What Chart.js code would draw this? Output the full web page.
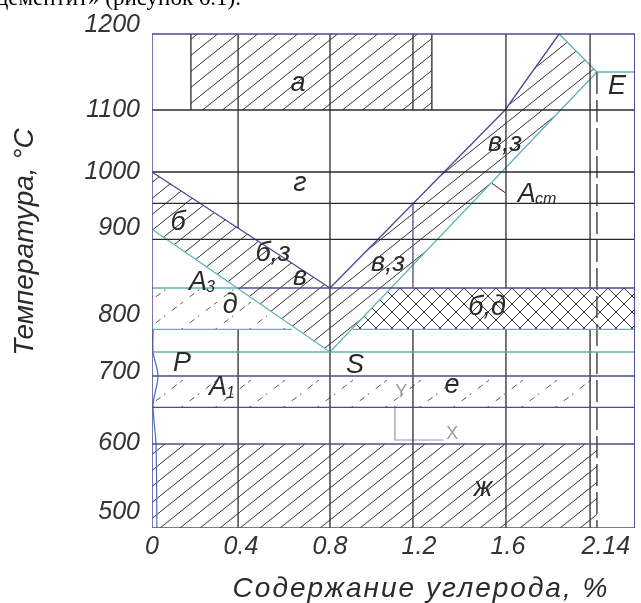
<!DOCTYPE html>
<html lang="ru">
<head>
<meta charset="utf-8">
<title>Диаграмма Fe–C (стальной участок)</title>
<script src="https://cdn.jsdelivr.net/npm/chart.js"></script>
<style>
  html, body { margin: 0; background: #fff; }
  #wrap { width: 641px; height: 603px; position: relative; }
</style>
</head>
<body>
<div id="wrap"><canvas id="diagram"></canvas></div>
<script>
// axis ticks (where the labels sit on the drawing, and what they say)
const carbonTicks = [0, 0.4, 0.8, 1.2, 1.6, 2.04];
const carbonTickLabels = ['0', '0.4', '0.8', '1.2', '1.6', '2.14'];
const tempTicks = [1217, 1090, 997, 913, 782, 697, 590, 487];
const tempTickLabels = ['1200', '1100', '1000', '900', '800', '700', '600', '500'];

// frame of the drawing
const frameCarbon = [0, 2.17];
const frameTemp = [463, 1204];

// horizontal lines: [°C, from %C, to %C]
const blackIsotherms = [[1090, 0, 2.17], [997, 0, 2.17], [950, 0, 2.17], [896, 0, 2.17]];
const blueIsotherms = [[823, 0.387, 2.17], [691, 0, 2.17], [644, 0, 2.17], [589, 0, 2.17]];
const tealIsotherms = [[823, 0, 0.387], [761, 0, 0.629], [761, 0.903, 2.17], [727, 0, 2.17], [1147, 2.0, 2.17]];

// vertical lines: [%C, from °C, to °C]
const blackVerticals = [
  [0.175, 1204, 1090], [1.258, 1204, 1090],
  [0.387, 1204, 913], [0.387, 761, 463],
  [0.8, 1204, 463],
  [1.173, 1204, 1090], [1.173, 761, 463],
  [1.591, 1204, 823], [1.591, 761, 463],
  [1.969, 1204, 823], [1.969, 761, 463]
];
const blueVerticals = [[1.173, 950, 823]];
const dashedVertical = [2.0, 1147, 463];

// phase boundaries: [%C, °C]
const gsUpper = [[0, 997], [0.8, 823]];
const seUpper = [[0.8, 823], [1.587, 1090], [1.83, 1204]];
const gseLower = [[0, 911], [0.8, 727], [2.0, 1147]];
const eTop = [[1.83, 1204], [2.0, 1147]];
const pqLine = [[0.005, 761], [0.005, 727], [0.027, 691], [0.005, 648], [0.018, 589], [0.022, 463]];
const acmLeader = [[1.528, 980], [1.587, 966]];
const ucsIcon = [[1.092, 647], [1.092, 595], [1.31, 595]];

// hatched fields (polygons, [%C, °C])
const fieldA = [[0.175, 1204], [1.258, 1204], [1.258, 1090], [0.175, 1090]];
const fieldZh = [[0, 589], [2.0, 589], [2.0, 463], [0, 463]];
const fieldBand = [[0, 997], [0.8, 823], [1.587, 1090], [1.83, 1204], [2.0, 1147], [0.8, 727], [0, 911]];
const fieldD = [[0, 823], [0.383, 823], [0.652, 761], [0, 761]];
const fieldE = [[0, 691], [2.0, 691], [2.0, 644], [0, 644]];
const fieldBD = [[0.897, 761], [1.074, 823], [2.17, 823], [2.17, 761]];

// field letters
const fieldNames = ['а', 'г', 'б', 'б,з', 'в', 'д', 'в,з', 'в,з', 'б,д', 'е', 'ж', 'P', 'S', 'E'];
const fieldNameCarbon = [0.656, 0.665, 0.117, 0.544, 0.665, 0.351, 1.061, 1.587, 1.506, 1.348, 1.488, 0.135, 0.912, 2.09];
const fieldNameTemp = [1130, 980, 922, 875, 839, 797, 860, 1040, 794, 677, 523, 710, 707, 1126];
const pointSubs = ['3', '1', 'cm'];
const pointCarbon = [0.207, 0.297, 1.685];
const pointTemp = [832, 674, 964];

const BLACK = '#2b2b2b';
const NAVY = '#4b4b96';
const TEAL = '#5fb3b3';
const FONT = '"Liberation Sans", "DejaVu Sans", sans-serif';

function hatch(w, h, color, dashes) {
  const c = document.createElement('canvas');
  c.width = w; c.height = h;
  const g = c.getContext('2d');
  g.strokeStyle = color;
  g.lineWidth = 1;
  for (const off of [-w, 0, w]) {
    if (dashes) {
      for (const [a, b] of dashes) {
        g.beginPath();
        g.moveTo(off + a * w, h - a * h);
        g.lineTo(off + b * w, h - b * h);
        g.stroke();
      }
    } else {
      g.beginPath();
      g.moveTo(off, h);
      g.lineTo(off + w, 0);
      g.stroke();
    }
  }
  return g.createPattern(c, 'repeat');
}

function crossHatch(s, color) {
  const c = document.createElement('canvas');
  c.width = s; c.height = s;
  const g = c.getContext('2d');
  g.strokeStyle = color;
  g.lineWidth = 1;
  for (const off of [-s, 0, s]) {
    g.beginPath();
    g.moveTo(off, s); g.lineTo(off + s, 0);
    g.moveTo(off, 0); g.lineTo(off + s, s);
    g.stroke();
  }
  return g.createPattern(c, 'repeat');
}

const solidHatch = hatch(20, 16, '#333');
const lightHatch = hatch(34, 26, '#555', [[0.05, 0.2], [0.3, 0.38], [0.58, 0.72], [0.82, 0.86]]);
const netHatch = crossHatch(16, '#333');

const pts = arr => arr.map(([x, y]) => ({ x, y }));

function line(points, color, extra) {
  return Object.assign({
    data: pts(points), borderColor: color, borderWidth: 1.3,
    pointRadius: 0, fill: false, tension: 0
  }, extra || {});
}

function area(points, pattern) {
  return {
    data: pts(points), borderColor: 'rgba(0,0,0,0)', borderWidth: 0,
    backgroundColor: pattern, fill: 'shape', pointRadius: 0
  };
}

const datasets = [];
// frame
datasets.push(line([[frameCarbon[0], frameTemp[1]], [frameCarbon[1], frameTemp[1]], [frameCarbon[1], frameTemp[0]],
  [frameCarbon[0], frameTemp[0]], [frameCarbon[0], frameTemp[1]]], NAVY, { borderWidth: 1.5 }));
blackIsotherms.forEach(([t, a, b]) => datasets.push(line([[a, t], [b, t]], BLACK)));
blueIsotherms.forEach(([t, a, b]) => datasets.push(line([[a, t], [b, t]], NAVY)));
tealIsotherms.forEach(([t, a, b]) => datasets.push(line([[a, t], [b, t]], TEAL)));
blackVerticals.forEach(([c, a, b]) => datasets.push(line([[c, a], [c, b]], BLACK)));
blueVerticals.forEach(([c, a, b]) => datasets.push(line([[c, a], [c, b]], NAVY)));
datasets.push(line([[dashedVertical[0], dashedVertical[1]], [dashedVertical[0], dashedVertical[2]]], BLACK, { borderDash: [22, 6] }));
datasets.push(line(gsUpper, NAVY));
datasets.push(line(seUpper, NAVY));
datasets.push(line(gseLower, TEAL));
datasets.push(line(eTop, TEAL));
datasets.push(line(pqLine, '#4a6fb0', { tension: 0.3, borderWidth: 1.2 }));
datasets.push(line(acmLeader, BLACK, { borderWidth: 1 }));
datasets.push(line(ucsIcon, '#9a9a9a', { borderWidth: 1.2 }));
// fields
datasets.push(area(fieldA, solidHatch));
datasets.push(area(fieldZh, solidHatch));
datasets.push(area(fieldBand, solidHatch));
datasets.push(area(fieldD, lightHatch));
datasets.push(area(fieldE, lightHatch));
datasets.push(area(fieldBD, netHatch));

const textPlugin = {
  id: 'diagramText',
  afterDraw(chart) {
    const { ctx, scales: { x, y } } = chart;
    ctx.save();
    ctx.fillStyle = '#2a2a2a';
    ctx.textAlign = 'center';
    ctx.textBaseline = 'middle';
    ctx.font = 'italic 27px ' + FONT;
    fieldNames.forEach((name, i) => {
      ctx.fillText(name, x.getPixelForValue(fieldNameCarbon[i]), y.getPixelForValue(fieldNameTemp[i]));
    });
    // A3, A1, Acm
    pointSubs.forEach((sub, i) => {
      const px = x.getPixelForValue(pointCarbon[i]);
      const py = y.getPixelForValue(pointTemp[i]);
      ctx.font = 'italic 27px ' + FONT;
      ctx.textAlign = 'center';
      ctx.fillText('A', px, py);
      ctx.font = 'italic 16px ' + FONT;
      ctx.textAlign = 'left';
      ctx.fillText(sub, px + 8, py + 6);
    });
    // UCS icon letters
    ctx.fillStyle = '#9a9a9a';
    ctx.font = '18px ' + FONT;
    ctx.textAlign = 'center';
    ctx.fillText('Y', x.getPixelForValue(1.12), y.getPixelForValue(667));
    ctx.fillText('X', x.getPixelForValue(1.35), y.getPixelForValue(604));

    // axis titles
    ctx.fillStyle = '#2a2a2a';
    ctx.font = 'italic 28px ' + FONT;
    ctx.textBaseline = 'alphabetic';
    ctx.letterSpacing = '2px';
    ctx.fillText('Содержание углерода, %', 421, 597);
    ctx.letterSpacing = '0px';
    ctx.translate(33, 242);
    ctx.rotate(-Math.PI / 2);
    ctx.fillText('Температура, °С', 0, 0);
    ctx.restore();

    // cut text line of the page above
    ctx.save();
    ctx.fillStyle = '#000';
    ctx.font = '23px "Liberation Serif", serif';
    ctx.textAlign = 'left';
    ctx.textBaseline = 'alphabetic';
    ctx.fillText('цементит» (рисунок 6.1).', -4, 5);
    ctx.restore();
  }
};

new Chart(document.getElementById('diagram'), {
  type: 'line',
  data: { datasets },
  plugins: [textPlugin],
  options: {
    responsive: true,
    maintainAspectRatio: false,
    animation: false,
    layout: { padding: { top: 14, right: 6, left: 0, bottom: 0 } },
    plugins: { legend: { display: false }, tooltip: { enabled: false } },
    scales: {
      x: {
        type: 'linear', min: 0, max: 2.171,
        grid: { display: false, drawTicks: false }, border: { display: false },
        afterFit: s => { s.height = 75; s.paddingLeft = 0; s.paddingRight = 0; },
        afterBuildTicks: s => { s.ticks = carbonTicks.map(v => ({ value: v })); },
        ticks: {
          autoSkip: false, maxRotation: 0, padding: 4, color: '#333',
          font: { family: FONT, size: 25, style: 'italic' },
          callback: (v, i) => carbonTickLabels[i]
        }
      },
      y: {
        type: 'linear', min: 463, max: 1234,
        grid: { display: false, drawTicks: false }, border: { display: false },
        afterFit: s => { s.width = 152; s.paddingTop = 0; s.paddingBottom = 0; },
        afterBuildTicks: s => { s.ticks = tempTicks.map(v => ({ value: v })); },
        ticks: {
          autoSkip: false, padding: 12, color: '#333',
          font: { family: FONT, size: 25, style: 'italic' },
          callback: (v, i) => tempTickLabels[i]
        }
      }
    }
  }
});
</script>
</body>
</html>
